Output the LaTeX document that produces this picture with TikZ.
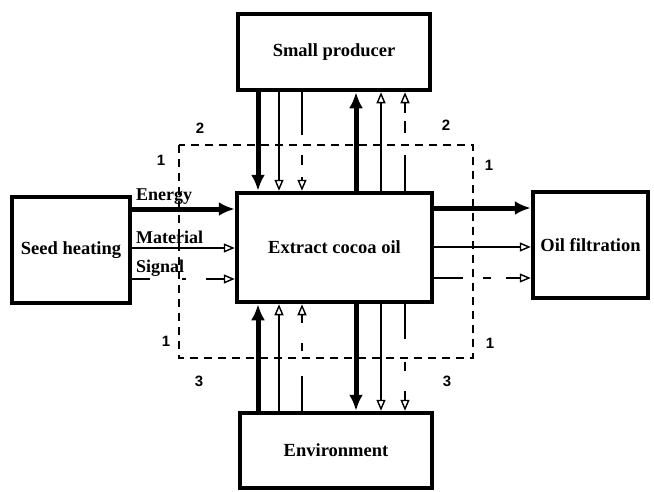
\documentclass[tikz,border=0pt]{standalone}
\usepackage{fontspec}
\setmainfont{Liberation Serif}
\newfontfamily\numfont{Liberation Sans}
\usetikzlibrary{arrows.meta}
\tikzset{
    block/.style={
        draw, line width=4.5pt,
        inner sep=0pt,
        font=\bfseries\fontsize{18.5}{21}\selectfont
    },
    heavy/.style={
        line width=5pt,
        -{Latex[length=16pt, width=14pt]},
    },
    light/.style={
        line width=1.4pt,
        -{Triangle[open, length=11pt, width=9pt]},
    },
    sig/.style={light, dash pattern=#1},
    bound/.style={line width=1.8pt, dash pattern=on 8pt off 6pt},
    tag/.style={font=\numfont\bfseries\fontsize{15}{17}\selectfont},
    flow/.style={font=\bfseries\fontsize{18}{21}\selectfont,
        anchor=base west, inner sep=0pt},
}
\begin{document}
\begin{tikzpicture}[x=1pt, y=-1pt]
    \useasboundingbox (0,0) rectangle (654,491);
    % Blocks
    \node[block, minimum width=195pt, minimum height=109pt] (core) at (334.5,247.5) {Extract cocoa oil};
    \node[block, minimum width=192pt, minimum height=76pt] (prod) at (334,52) {Small producer};
    \node[block, minimum width=192pt, minimum height=75pt] (env) at (336,450.5) {Environment};
    \node[block, minimum width=118pt, minimum height=106pt] (heat) at (71,250) {Seed heating};
    \node[block, minimum width=115pt, minimum height=106pt] (filt) at (590.5,245) {Oil filtration};

    % System boundary
    \draw[bound] (179,145) rectangle (473,358);
    \node[tag] (b1) at (161,160) {1};
    \node[tag] (b2) at (200,128) {2};
    \node[tag] (b3) at (446,125) {2};
    \node[tag] (b4) at (489,165) {1};
    \node[tag] (b5) at (166,341) {1};
    \node[tag] (b6) at (199,381) {3};
    \node[tag] (b7) at (490,343) {1};
    \node[tag] (b8) at (447,381) {3};

    % Inputs from seed heating
    \draw[heavy] ([yshift=41pt]heat.east) -- ([yshift=41pt]heat.east -| core.west);
    \draw[light] ([yshift=2pt]heat.east) -- ([yshift=2pt]heat.east -| core.west);
    \draw[sig={on 18pt off 32pt on 4pt off 20pt on 40pt}] ([yshift=-29pt]heat.east) -- ([yshift=-29pt]heat.east -| core.west);
    \node[flow] (le) at (136,200) {Energy};
    \node[flow] (lm) at (136,243) {Material};
    \node[flow] (ls) at (136,272) {Signal};

    % Outputs to oil filtration
    \draw[heavy] ([yshift=39.5pt]core.east) -- ([yshift=39.5pt]core.east -| filt.west);
    \draw[light] ([yshift=0.5pt]core.east) -- ([yshift=0.5pt]core.east -| filt.west);
    \draw[sig={on 29pt off 20pt on 8pt off 15pt on 40pt}] ([yshift=-30.5pt]core.east) -- ([yshift=-30.5pt]core.east -| filt.west);

    % Small producer
    \draw[heavy] ([xshift=-76.5pt]core.north |- prod.south) -- ([xshift=-76.5pt]core.north);
    \draw[light] ([xshift=-55.5pt]core.north |- prod.south) -- ([xshift=-55.5pt]core.north);
    \draw[sig={on 43pt off 20pt on 10pt off 12pt on 30pt}] ([xshift=-32.5pt]core.north |- prod.south) -- ([xshift=-32.5pt]core.north);
    \draw[heavy] ([xshift=21.5pt]core.north) -- ([xshift=21.5pt]core.north |- prod.south);
    \draw[light] ([xshift=46.5pt]core.north) -- ([xshift=46.5pt]core.north |- prod.south);
    \draw[sig={on 36pt off 22pt on 12pt off 8pt on 30pt}] ([xshift=70.5pt]core.north) -- ([xshift=70.5pt]core.north |- prod.south);

    % Environment
    \draw[heavy] ([xshift=-76.5pt]core.south |- env.north) -- ([xshift=-76.5pt]core.south);
    \draw[light] ([xshift=-55.5pt]core.south |- env.north) -- ([xshift=-55.5pt]core.south);
    \draw[sig={on 35pt off 25pt on 8pt off 20pt on 30pt}] ([xshift=-32.5pt]core.south |- env.north) -- ([xshift=-32.5pt]core.south);
    \draw[heavy] ([xshift=21.5pt]core.south) -- ([xshift=21.5pt]core.south |- env.north);
    \draw[light] ([xshift=46.5pt]core.south) -- ([xshift=46.5pt]core.south |- env.north);
    \draw[sig={on 35pt off 23pt on 9pt off 20pt on 30pt}] ([xshift=70.5pt]core.south) -- ([xshift=70.5pt]core.south |- env.north);
\end{tikzpicture}
\end{document}
